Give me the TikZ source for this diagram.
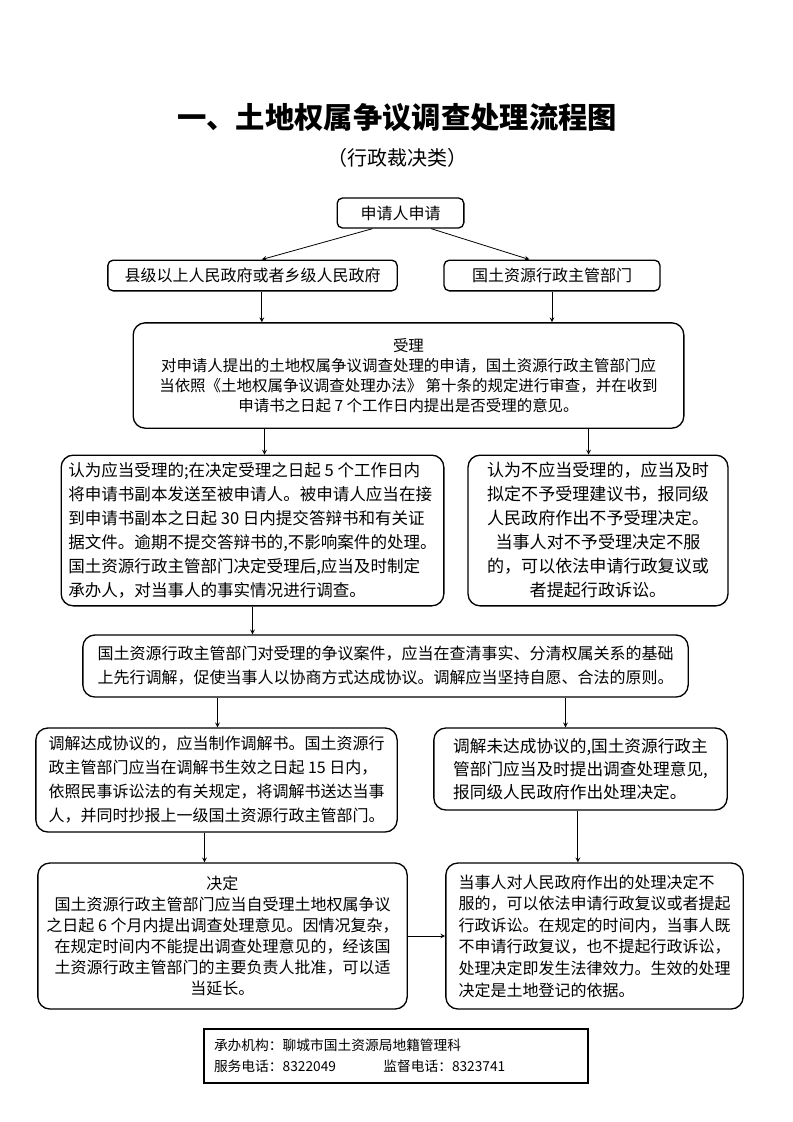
\documentclass[tikz,border=0pt]{standalone}
\usepackage{fontspec}
\setmainfont{Noto Sans CJK SC}
\usetikzlibrary{positioning, arrows}
\tikzset{
	>=stealth, % puntas de flecha rellenas
	flecha/.style={->, line width=0.6pt}, % conectores
	caja/.style={draw, line width=1pt, rounded corners=9pt, inner sep=0pt}, % cajas grandes
	cajita/.style={caja, rounded corners=4pt}, % cajas de arriba
	texto/.style={font=\fontsize{12}{18}\selectfont} % texto de las cajas
}

\begin{document}
\begin{tikzpicture}[x=0.75pt, y=-0.75pt]
	\useasboundingbox (0,0) rectangle (793,1122);
	% titulo
	\node (tit) at (397,118) {\bfseries\fontsize{22}{26}\selectfont 一、土地权属争议调查处理流程图};
	\node (sub) at (397,158) {\fontsize{15}{17}\selectfont （行政裁决类）};
	% solicitud
	\node[cajita, texto, minimum width=95pt, minimum height=22.5pt] (sol) at (400.5,213) {申请人申请};
	\node[cajita, texto, minimum width=217pt, minimum height=23pt] (gob) at (252.5,275.5) {县级以上人民政府或者乡级人民政府};
	\node[cajita, texto, minimum width=162pt, minimum height=23pt] (dep) at (552,275.5) {国土资源行政主管部门};
	% aceptacion
	\node[caja, align=center, font=\fontsize{11.6}{15}\selectfont,
		minimum width=413pt, minimum height=79pt] (acep) at (408.5,375.5)
		{受理\\
		 对申请人提出的土地权属争议调查处理的申请，国土资源行政主管部门应\\
		当依照《土地权属争议调查处理办法》 第十条的规定进行审查，并在收到\\
		申请书之日起 7 个工作日内提出是否受理的意见。};
	\node[caja, align=left, font=\fontsize{12.4}{18}\selectfont,
		minimum width=287pt, minimum height=113pt] (si) at (252.5,530.5)
		{认为应当受理的;在决定受理之日起 5 个工作日内\\
		将申请书副本发送至被申请人。被申请人应当在接\\
		到申请书副本之日起 30 日内提交答辩书和有关证\\
		据文件。逾期不提交答辩书的,不影响案件的处理。\\
		国土资源行政主管部门决定受理后,应当及时制定\\
		承办人，对当事人的事实情况进行调查。};
	\node[caja, align=center, font=\fontsize{12.8}{18}\selectfont,
		minimum width=195pt, minimum height=113pt] (no) at (598,530.5)
		{认为不应当受理的，应当及时\\
		拟定不予受理建议书，报同级\\
		人民政府作出不予受理决定。\\
		当事人对不予受理决定不服\\
		的，可以依法申请行政复议或\\
		者提起行政诉讼。};
	% mediacion
	\node[caja, texto, align=left, minimum width=454pt, minimum height=46.5pt] (med) at (385.5,666)
		{国土资源行政主管部门对受理的争议案件，应当在查清事实、分清权属关系的基础\\
		上先行调解，促使当事人以协商方式达成协议。调解应当坚持自愿、合法的原则。};
	\node[caja, texto, align=left, minimum width=271pt, minimum height=78pt] (acu) at (216.5,780)
		{调解达成协议的，应当制作调解书。国土资源行\\
		政主管部门应当在调解书生效之日起 15 日内，\\
		依照民事诉讼法的有关规定，将调解书送达当事\\
		人，并同时抄报上一级国土资源行政主管部门。};
	\node[caja, align=left, font=\fontsize{12.5}{17.5}\selectfont,
		minimum width=220pt, minimum height=61.5pt] (noacu) at (580.5,769)
		{调解未达成协议的,国土资源行政主\\
		管部门应当及时提出调查处理意见,\\
		报同级人民政府作出处理决定。};
	% decision
	\node[caja, align=center, font=\fontsize{12}{15.8}\selectfont,
		minimum width=277pt, minimum height=109.5pt] (dec) at (222.5,936)
		{决定\\
		国土资源行政主管部门应当自受理土地权属争议\\
		之日起 6 个月内提出调查处理意见。因情况复杂，\\
		在规定时间内不能提出调查处理意见的，经该国\\
		土资源行政主管部门的主要负责人批准，可以适\\
		当延长。};
	\node[caja, align=left, font=\fontsize{12}{16.2}\selectfont,
		minimum width=223pt, minimum height=109.5pt] (rec) at (594.5,936)
		{当事人对人民政府作出的处理决定不\\
		服的，可以依法申请行政复议或者提起\\
		行政诉讼。在规定的时间内，当事人既\\
		不申请行政复议，也不提起行政诉讼，\\
		处理决定即发生法律效力。生效的处理\\
		决定是土地登记的依据。};
	% pie
	\node[draw, line width=0.8pt, align=left, inner sep=0pt, text width=273pt,
		font=\fontsize{10.3}{15.8}\selectfont,
		minimum width=288pt, minimum height=40.5pt] (pie) at (396,1056)
		{承办机构：聊城市国土资源局地籍管理科\\
		\makebox[127pt][l]{服务电话：8322049}监督电话：8323741};
	% conectores
	\draw[flecha] ([xshift=-21pt]sol.south) -- ([xshift=7pt]gob.north);
	\draw[flecha] ([xshift=23pt]sol.south) -- ([xshift=-17pt]dep.north);
	\draw[flecha] ([xshift=7pt]gob.south) -- ([xshift=7pt]gob.south |- acep.north);
	\draw[flecha] (dep.south) -- (dep.south |- acep.north);
	\draw[flecha] ([xshift=-108pt]acep.south) -- ([xshift=-108pt]acep.south |- si.north);
	\draw[flecha] ([xshift=135pt]acep.south) -- ([xshift=135pt]acep.south |- no.north);
	\draw[flecha] (si.south) -- (si.south |- med.north);
	\draw[flecha] ([xshift=-126pt]med.south) -- ([xshift=-126pt]med.south |- acu.north);
	\draw[flecha] ([xshift=135pt]med.south) -- ([xshift=135pt]med.south |- noacu.north);
	\draw[flecha] ([xshift=-9pt]acu.south) -- ([xshift=-9pt]acu.south |- dec.north);
	\draw[flecha] ([xshift=-2pt]noacu.south) -- ([xshift=-2pt]noacu.south |- rec.north);
	\draw[flecha] (dec.east) -- (rec.west);
\end{tikzpicture}
\end{document}
